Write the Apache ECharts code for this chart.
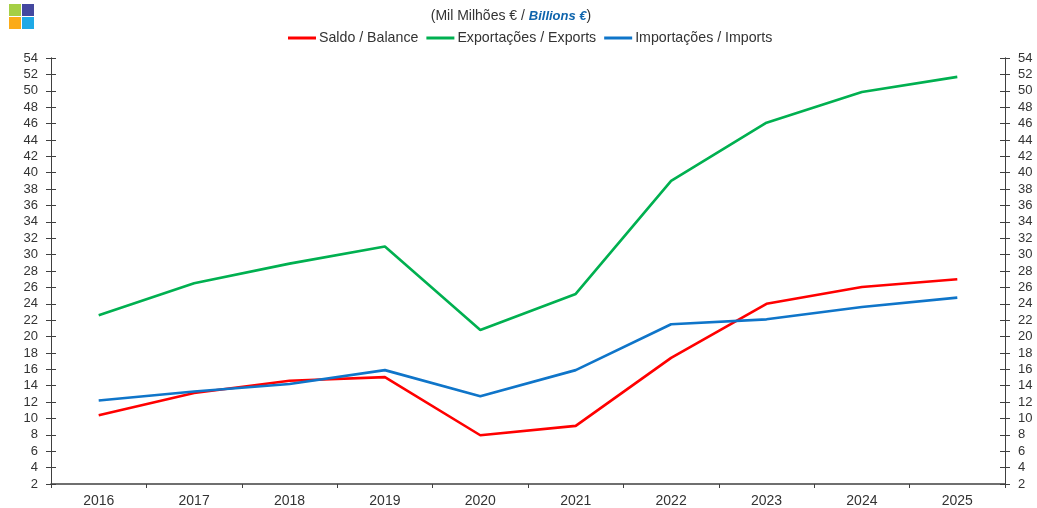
<!DOCTYPE html>
<html><head><meta charset="utf-8">
<style>html,body{margin:0;padding:0;background:#fff}#c{width:1037px;height:508px}</style>
<script src="https://cdn.jsdelivr.net/npm/echarts@6/dist/echarts.min.js"></script>
</head><body><div id="c"></div>
<script>
const years = ['2016','2017','2018','2019','2020','2021','2022','2023','2024','2025'];
const saldo = [10.4,13.1,14.6,15.05,7.95,9.1,17.4,24.0,26.05,27.0];
const exportsVals = [22.6,26.5,28.9,31.0,20.8,25.2,39.0,46.1,49.85,51.7];
const importsVals = [12.2,13.3,14.2,15.9,12.7,15.9,21.5,22.1,23.6,24.75];
const names = ['Saldo / Balance','Exportações / Exports','Importações / Imports'];
const colors = ['#ff0000','#00b050','#0f75c9'];
const FONT = '"Liberation Sans", Arial, sans-serif';
const AX = '#404040';

function yAx(pos, showLabel, inside){
  return {type:'value',position:pos,min:2,max:54,interval:2,
    axisLine:{show:true,onZero:false,lineStyle:{color:AX,width:1}},
    axisTick:{show:true,inside:inside,length:5,lineStyle:{color:AX,width:1}},
    axisLabel:{show:showLabel,color:'#333',fontFamily:FONT,fontSize:13,margin:13,showMinLabel:true,showMaxLabel:true},
    splitLine:{show:false}};
}
const series = [saldo,exportsVals,importsVals].map((d,i)=>({
  name:names[i],type:'line',data:d,symbol:'none',smooth:false,
  lineStyle:{color:colors[i],width:2.6},itemStyle:{color:colors[i]},z:[4,3,5][i]
}));
const chart = echarts.init(document.getElementById('c'),null,{renderer:'canvas'});
chart.setOption({
  animation:false,backgroundColor:'#fff',
  title:{text:'{a|(Mil Milhões € / }{b|Billions €}{a|)}',left:506,top:4,textAlign:'center',
    textStyle:{fontWeight:'normal',rich:{a:{fontFamily:FONT,fontSize:14,fontWeight:'normal',color:'#333'},b:{fontFamily:FONT,fontSize:13,color:'#0f65ad',fontWeight:'bold',fontStyle:'italic'}}}},
  legend:{top:26,left:283,itemWidth:28,itemHeight:3,itemGap:8,icon:'rect',
    data:names,textStyle:{fontFamily:FONT,fontSize:14.2,color:'#333',padding:[0,0,0,-2]},
    selectedMode:false},
  grid:{left:51,right:32,top:58,bottom:24,containLabel:false},
  xAxis:{type:'category',data:years,boundaryGap:true,
    axisLine:{onZero:false,lineStyle:{color:AX,width:1.5}},
    axisTick:{show:true,alignWithLabel:false,length:4,lineStyle:{color:AX,width:1}},
    axisLabel:{color:'#333',fontFamily:FONT,fontSize:14,margin:10,interval:0}},
  // Outer ticks + labels on axes 0/1, inner halves of the crossing ticks on axes 2/3
  yAxis:[yAx('left',true,false),yAx('right',true,false),yAx('left',false,true),yAx('right',false,true)],
  series:series,
  graphic:[
    {type:'rect',shape:{x:9,y:4,width:12,height:12},style:{fill:'#a5cf45'}},
    {type:'rect',shape:{x:22,y:4,width:12,height:12},style:{fill:'#44489f'}},
    {type:'rect',shape:{x:9,y:17,width:12,height:12},style:{fill:'#fbab18'}},
    {type:'rect',shape:{x:22,y:17,width:12,height:12},style:{fill:'#1fa9e6'}}
  ]
});
</script></body></html>
